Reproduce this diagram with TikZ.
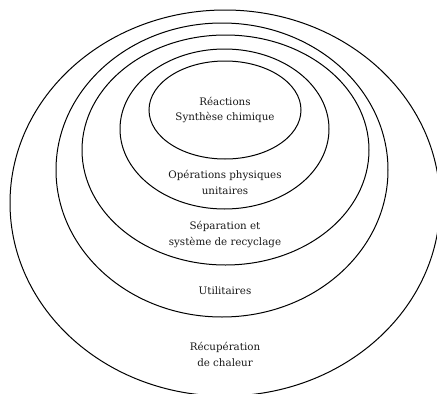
\documentclass[tikz,border=0pt]{standalone}
\usepackage{fontspec}
\setmainfont{DejaVu Serif}
\begin{document}
\begin{tikzpicture}[x=1pt,y=-1pt,
  ring/.style={draw=black,line width=1pt},
  lbl/.style={align=center,font=\fontsize{10.3}{15.5}\selectfont,text=black!90,inner sep=0pt}]
\useasboundingbox (0,0) rectangle (437,394);
\clip (0,0) rectangle (437,394);
% nested layers, outermost first
\draw[ring] (225,203) ellipse [x radius=215, y radius=193];
\draw[ring] (222,170) ellipse [x radius=166, y radius=147];
\draw[ring] (225.5,150) ellipse [x radius=143.5, y radius=115];
\draw[ring] (224.5,129) ellipse [x radius=104.5, y radius=80];
\draw[ring] (225,110) ellipse [x radius=76, y radius=49];
% layer labels
\node[lbl] (reac) at (225,110) {Réactions\\Synthèse chimique};
\node[lbl] (ops)  at (225,182.5) {Opérations physiques\\unitaires};
\node[lbl] (sep)  at (225,234.5) {Séparation et\\système de recyclage};
\node[lbl] (util) at (225,291) {Utilitaires};
\node[lbl] (heat) at (225,354.5) {Récupération\\de chaleur};
\end{tikzpicture}
\end{document}
